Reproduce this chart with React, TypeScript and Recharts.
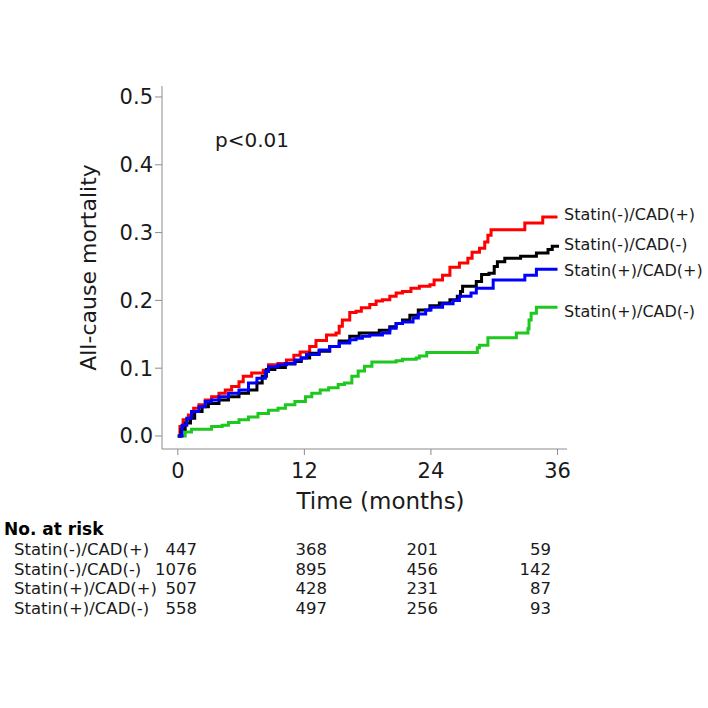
import { LineChart, Line, XAxis, YAxis } from "recharts";

// Kaplan-Meier step points: [months, cumulative mortality]
const RED_PTS: [number, number][] = [
  [0, 0], [0.2, 0.014], [0.5, 0.024], [1.0, 0.031], [1.5, 0.041], [2.0, 0.046], [2.6, 0.053],
  [3.2, 0.058], [3.9, 0.063], [4.5, 0.068], [5.1, 0.073], [5.8, 0.08], [6.2, 0.088], [7.0, 0.093],
  [8.1, 0.097], [8.6, 0.105], [9.5, 0.107], [10.3, 0.112], [11.0, 0.119], [11.6, 0.124],
  [12.5, 0.132], [13.1, 0.141], [14.1, 0.149], [15.0, 0.152], [15.3, 0.162], [15.6, 0.171],
  [16.3, 0.182], [16.9, 0.184], [17.4, 0.189], [18.2, 0.194], [18.8, 0.199], [19.4, 0.201],
  [20.1, 0.206], [20.7, 0.211], [21.3, 0.213], [22.1, 0.218], [22.9, 0.221], [23.9, 0.223],
  [24.3, 0.23], [25.1, 0.237], [25.8, 0.249], [26.7, 0.255], [27.5, 0.262], [27.9, 0.271],
  [28.6, 0.277], [29.1, 0.286], [29.4, 0.296], [29.7, 0.304], [32.9, 0.314], [34.6, 0.323],
  [36, 0.323],
];

const BLACK_PTS: [number, number][] = [
  [0, 0], [0.3, 0.01], [0.7, 0.019], [1.2, 0.026], [1.6, 0.036], [2.3, 0.043], [2.9, 0.048],
  [3.9, 0.053], [4.8, 0.058], [5.8, 0.063], [6.7, 0.068], [7.5, 0.078], [8.0, 0.088], [8.4, 0.098],
  [9.2, 0.101], [10.2, 0.106], [11.1, 0.11], [11.7, 0.115], [12.5, 0.122], [13.4, 0.125],
  [14.4, 0.132], [15.3, 0.14], [16.3, 0.147], [17.2, 0.152], [19.1, 0.156], [20.1, 0.161],
  [20.7, 0.166], [21.3, 0.171], [22.0, 0.178], [22.8, 0.186], [23.9, 0.192], [24.8, 0.196],
  [25.8, 0.201], [26.5, 0.206], [26.8, 0.213], [27.0, 0.221], [28.3, 0.228], [28.8, 0.238],
  [29.5, 0.24], [30.0, 0.25], [30.3, 0.257], [31.0, 0.262], [32.5, 0.265], [34.0, 0.27],
  [35.1, 0.275], [35.5, 0.28], [36, 0.282],
];

const BLUE_PTS: [number, number][] = [
  [0, 0], [0.4, 0.016], [0.85, 0.026], [1.3, 0.036], [2.0, 0.043], [2.6, 0.051], [3.2, 0.053],
  [3.9, 0.058], [4.8, 0.063], [5.8, 0.068], [6.7, 0.078], [7.5, 0.085], [8.3, 0.095], [8.6, 0.102],
  [9.5, 0.105], [10.3, 0.107], [11.1, 0.112], [11.7, 0.115], [12.2, 0.12], [13.4, 0.127],
  [14.4, 0.132], [15.3, 0.137], [16.3, 0.142], [16.9, 0.144], [17.5, 0.147], [18.2, 0.149],
  [19.4, 0.152], [20.1, 0.159], [20.7, 0.166], [21.3, 0.168], [22.3, 0.174], [22.8, 0.18],
  [23.5, 0.186], [24.0, 0.19], [25.1, 0.195], [26.1, 0.2], [26.7, 0.206], [27.8, 0.211],
  [28.3, 0.218], [29.9, 0.23], [32.9, 0.237], [34.0, 0.246], [36, 0.246],
];

const GREEN_PTS: [number, number][] = [
  [0, 0], [0.7, 0.006], [1.3, 0.01], [3.2, 0.014], [4.2, 0.016], [4.8, 0.02], [5.8, 0.024],
  [6.7, 0.028], [7.6, 0.033], [8.6, 0.038], [9.5, 0.041], [10.2, 0.046], [11.1, 0.051],
  [12.1, 0.058], [12.7, 0.063], [13.5, 0.068], [14.3, 0.071], [15.2, 0.076], [15.8, 0.078],
  [16.5, 0.088], [17.1, 0.096], [17.7, 0.103], [18.4, 0.109], [20.7, 0.111], [21.3, 0.113],
  [22.6, 0.115], [22.9, 0.118], [23.6, 0.123], [28.4, 0.13], [28.6, 0.134], [29.4, 0.145],
  [32.1, 0.152], [33.2, 0.158], [33.3, 0.171], [33.5, 0.181], [34.0, 0.19], [36, 0.19],
];

const GROUPS = ["Statin(-)/CAD(+)", "Statin(-)/CAD(-)", "Statin(+)/CAD(+)", "Statin(+)/CAD(-)"];
const COLORS = ["#ff0000", "#000000", "#0000ff", "#1ec81e"];
const X_TICKS = [0, 12, 24, 36];
const Y_TICKS = [0, 0.1, 0.2, 0.3, 0.4, 0.5];

// number at risk at 0 / 12 / 24 / 36 months
const RISK_COUNTS = [
  [447, 368, 201, 59],
  [1076, 895, 456, 142],
  [507, 428, 231, 87],
  [558, 497, 256, 93],
];

const SERIES = [RED_PTS, BLACK_PTS, BLUE_PTS, GREEN_PTS].map((pts) => pts.map(([t, v]) => ({ t, v })));
const DRAW_ORDER = [0, 3, 1, 2];

const FONT = "'DejaVu Sans', Verdana, sans-serif";
const AXIS_GRAY = "#8c8c8c";
const TEXT = "#1a1a1a";

// end label vertical positions (top of text box)
const END_LABEL_TOP = [206, 236, 262, 303];
// right edge of the risk table columns
const RISK_COL_RIGHT = [197, 327, 438, 551];
const RISK_ROW_TOP = [540, 559.5, 579, 598.5];

export default function App() {
  const txt: React.CSSProperties = { position: "absolute", fontFamily: FONT, color: TEXT, whiteSpace: "pre", lineHeight: "18px" };

  return (
    <div style={{ position: "absolute", left: 0, top: 0, width: 708, height: 708, background: "#fff", fontFamily: FONT }}>
      <LineChart width={708} height={708} margin={{ top: 86, right: 141, bottom: 0, left: 0 }}>
        <XAxis
          type="number" dataKey="t" domain={[-1.5, 36.9]} ticks={X_TICKS} allowDataOverflow
          tick={{ fontSize: 21, fill: TEXT, fontFamily: FONT }} tickSize={6} tickMargin={8}
          axisLine={{ stroke: AXIS_GRAY }} tickLine={{ stroke: AXIS_GRAY }} height={259}
          label={{ value: "Time (months)", position: "insideTop", offset: 44, dx: 16, fontSize: 23, fill: TEXT, fontFamily: FONT }}
        />
        <YAxis
          type="number" dataKey="v" domain={[-0.0192, 0.5162]} ticks={Y_TICKS} allowDataOverflow
          tickFormatter={(v: number) => v.toFixed(1)}
          tick={{ fontSize: 21, fill: TEXT, fontFamily: FONT }} tickSize={7} tickMargin={2}
          axisLine={{ stroke: AXIS_GRAY }} tickLine={{ stroke: AXIS_GRAY }} width={162}
          label={{ value: "All-cause mortality", angle: -90, position: "insideLeft", offset: 88, fontSize: 22, fill: TEXT, fontFamily: FONT, style: { textAnchor: "middle" } }}
        />
        {DRAW_ORDER.map((i) => (
          <Line
            key={GROUPS[i]} data={SERIES[i]} dataKey="v" type="stepAfter" stroke={COLORS[i]}
            strokeWidth={3} dot={false} activeDot={false} isAnimationActive={false}
          />
        ))}
      </LineChart>

      <div style={{ ...txt, left: 215, top: 130, fontSize: 20, lineHeight: "20px" }}>p&lt;0.01</div>

      {GROUPS.map((g, i) => (
        <div key={g} style={{ ...txt, left: 564, top: END_LABEL_TOP[i], fontSize: 16 }}>{g}</div>
      ))}

      {/* number-at-risk table */}
      <div style={{ ...txt, left: 4, top: 520, fontSize: 17, lineHeight: "19px", fontWeight: "bold", color: "#000" }}>No. at risk</div>
      {GROUPS.map((g, r) => (
        <div key={g}>
          <div style={{ ...txt, left: 14, top: RISK_ROW_TOP[r], fontSize: 16.5, lineHeight: "19px" }}>{g}</div>
          {RISK_COUNTS[r].map((n, c) => (
            <div key={c} style={{ ...txt, right: 708 - RISK_COL_RIGHT[c], top: RISK_ROW_TOP[r], fontSize: 16.5, lineHeight: "19px" }}>{n}</div>
          ))}
        </div>
      ))}
    </div>
  );
}
